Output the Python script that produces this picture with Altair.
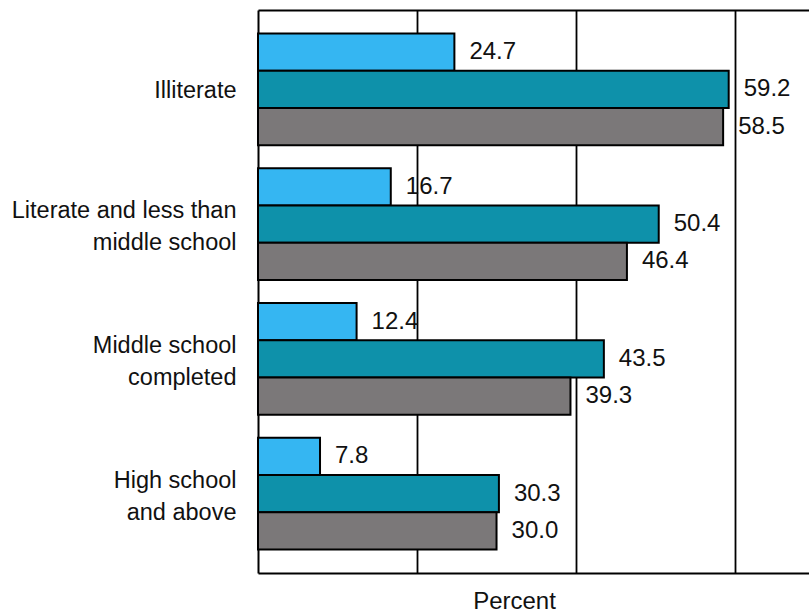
import altair as alt
import pandas as pd

# Education levels (top to bottom) and the three series shown for each
categories = [
    "Illiterate",
    "Literate and less than|middle school",
    "Middle school|completed",
    "High school|and above",
]
series = ["Series 1", "Series 2", "Series 3"]
values_s1 = [24.7, 16.7, 12.4, 7.8]
values_s2 = [59.2, 50.4, 43.5, 30.3]
values_s3 = [58.5, 46.4, 39.3, 30.0]
colors = ["#35B6F2", "#0E91AA", "#7B7879"]
grid_values = [20, 40, 60]

rows = []
for s, vals in zip(series, [values_s1, values_s2, values_s3]):
    for c, v in zip(categories, vals):
        rows.append({"level": c, "series": s, "value": v})
df = pd.DataFrame(rows)

FONT = "Liberation Sans"

x_scale = alt.Scale(domain=[0, 69.3], nice=False, zero=True)
y_scale = alt.Scale(paddingInner=0.17, paddingOuter=0.175)

base = alt.Chart(df).encode(
    y=alt.Y(
        "level:N",
        sort=categories,
        scale=y_scale,
        axis=alt.Axis(
            title=None,
            ticks=False,
            domain=True,
            domainColor="black",
            domainWidth=2,
            labelFont=FONT,
            labelFontSize=23.5,
            labelColor="#111111",
            labelPadding=22,
            labelLineHeight=32,
            labelLimit=0,
            # two-line labels are shifted up so the block centres on its group
            labelOffset={
                "condition": {"test": "indexof(datum.value, '|') >= 0", "value": -13},
                "value": 2,
            },
            labelExpr="split(datum.label, '|')",
        ),
    ),
    yOffset=alt.YOffset(
        "series:N",
        sort=series,
        scale=alt.Scale(paddingInner=0, paddingOuter=0),
    ),
)

bars = base.mark_bar(stroke="black", strokeWidth=2).encode(
    x=alt.X(
        "value:Q",
        scale=x_scale,
        axis=alt.Axis(
            title="Percent",
            titleFont=FONT,
            titleFontSize=24,
            titleFontWeight="normal",
            titleColor="#111111",
            titleX=256,
            titleY=28,
            titleAlign="center",
            titleBaseline="middle",
            labels=False,
            ticks=False,
            values=grid_values,
            grid=True,
            gridColor="black",
            gridWidth=1.8,
            gridOpacity=1,
            domainColor="black",
            domainWidth=2,
        ),
    ),
    color=alt.Color(
        "series:N",
        sort=series,
        scale=alt.Scale(domain=series, range=colors),
        legend=None,
    ),
)

labels = base.mark_text(
    align="left", baseline="middle", dx=15, font=FONT, fontSize=24, color="#111111"
).encode(
    x=alt.X(
        "value:Q",
        scale=x_scale,
        axis=alt.Axis(
            orient="top",
            title=None,
            labels=False,
            ticks=False,
            grid=False,
            domainColor="black",
            domainWidth=2,
        ),
    ),
    text=alt.Text("value:Q", format=".1f"),
)

chart = (
    alt.layer(bars, labels)
    .resolve_axis(x="independent")
    .properties(
        width=551,
        height=563,
        autosize=alt.AutoSizeParams(type="none"),
        padding={"left": 258, "top": 10, "right": 0, "bottom": 39},
        background="white",
    )
    .configure_view(stroke=None)
)

chart.save("out.html", embed_options={"renderer": "svg", "actions": False})
